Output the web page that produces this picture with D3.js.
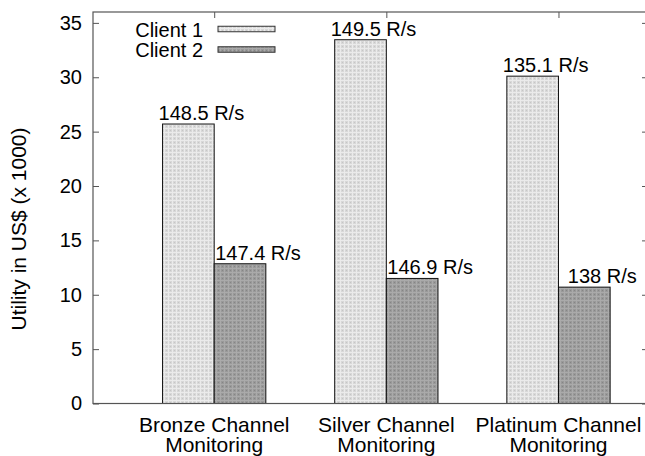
<!DOCTYPE html>
<html>
<head>
<meta charset="utf-8">
<script src="https://cdn.jsdelivr.net/npm/d3@7"></script>
<style>
  html, body { margin: 0; padding: 0; background: #fff; }
  svg { display: block; font-family: "Liberation Sans", Arial, Helvetica, sans-serif; }
</style>
</head>
<body>
<svg id="chart" width="645" height="456"></svg>
<script>
// Utility per monitoring channel (thousands of US$)
const categories = [["Bronze Channel", "Monitoring"], ["Silver Channel", "Monitoring"], ["Platinum Channel", "Monitoring"]];
const seriesNames = ["Client 1", "Client 2"];
const client1Utility = [25.7, 33.45, 30.1];
const client2Utility = [12.85, 11.5, 10.7];
// Request rates printed above each bar
const client1Rate = ["148.5", "149.5", "135.1"];
const client2Rate = ["147.4", "146.9", "138"];
const yTicks = [0, 5, 10, 15, 20, 25, 30, 35];

(function () {
  const svg = d3.select("#chart");
  const plotL = 93, plotT = 12, plotB = 403.5, plotR = 648;

  const x = d3.scaleLinear().domain([-0.704, 2.52]).range([plotL, plotR]);
  const y = d3.scaleLinear().domain([0, 36]).range([plotB, plotT]);
  const barW = 0.30;

  // fill textures
  const defs = svg.append("defs");
  function texture(id, base, light, dark) {
    const p = defs.append("pattern").attr("id", id).attr("patternUnits", "userSpaceOnUse")
      .attr("width", 4).attr("height", 4);
    p.append("rect").attr("width", 4).attr("height", 4).attr("fill", base);
    p.append("rect").attr("x", 0).attr("y", 0).attr("width", 4).attr("height", 1).attr("fill", light);
    p.append("rect").attr("x", 0).attr("y", 0).attr("width", 1).attr("height", 4).attr("fill", light);
    p.append("rect").attr("x", 2).attr("y", 2).attr("width", 1).attr("height", 1).attr("fill", dark);
  }
  texture("tex1", "#d8d8d8", "#ebebeb", "#c6c6c6");
  texture("tex2", "#999999", "#aaaaaa", "#858585");

  const series = [
    { name: seriesNames[0], values: client1Utility, rates: client1Rate, fill: "url(#tex1)", shift: -barW, dx: 13 },
    { name: seriesNames[1], values: client2Utility, rates: client2Rate, fill: "url(#tex2)", shift: 0, dx: 18 }
  ];

  // bars with rate labels
  series.forEach(s => {
    svg.append("g").selectAll("rect").data(s.values).join("rect")
      .attr("x", (d, i) => x(i + s.shift))
      .attr("y", d => y(d))
      .attr("width", x(barW) - x(0))
      .attr("height", d => y(0) - y(d))
      .attr("fill", s.fill)
      .attr("stroke", "#111")
      .attr("stroke-width", 1);
    svg.append("g").selectAll("text").data(s.values).join("text")
      .attr("x", (d, i) => x(i + s.shift + barW / 2) + s.dx)
      .attr("y", d => y(d) - 4)
      .attr("text-anchor", "middle")
      .attr("font-size", 20)
      .attr("fill", "#000")
      .text((d, i) => s.rates[i] + " R/s");
  });

  // frame and axes
  const axisColor = "#555";
  const gL = svg.append("g").attr("transform", `translate(${plotL},0)`)
    .call(d3.axisLeft(y).tickValues(yTicks).tickSize(-6).tickPadding(11));
  gL.selectAll("text").attr("font-size", 20).attr("fill", "#000").attr("font-family", null);
  gL.selectAll("line").attr("stroke", axisColor);
  gL.select(".domain").remove();

  const gR = svg.append("g").attr("transform", `translate(${plotR},0)`)
    .call(d3.axisRight(y).tickValues(yTicks).tickSize(-6).tickFormat(""));
  gR.selectAll("line").attr("stroke", axisColor);
  gR.select(".domain").remove();

  const gT = svg.append("g").attr("transform", `translate(0,${plotT})`)
    .call(d3.axisTop(x).tickValues([0, 1, 2]).tickSize(-6).tickFormat(""));
  gT.selectAll("line").attr("stroke", axisColor);
  gT.select(".domain").remove();

  svg.append("rect")
    .attr("x", plotL).attr("y", plotT)
    .attr("width", plotR - plotL).attr("height", plotB - plotT)
    .attr("fill", "none").attr("stroke", axisColor).attr("stroke-width", 1.2);

  // category labels, two lines each
  const cat = svg.append("g").selectAll("text").data(categories).join("text")
    .attr("x", (d, i) => x(i))
    .attr("y", 431.5)
    .attr("text-anchor", "middle")
    .attr("font-size", 21)
    .attr("fill", "#000");
  cat.selectAll("tspan").data(d => d).join("tspan")
    .attr("x", function () { return d3.select(this.parentNode).attr("x"); })
    .attr("dy", (d, i) => i === 0 ? 0 : 20)
    .text(d => d);

  // y title
  svg.append("text")
    .attr("transform", "translate(26,229) rotate(-90)")
    .attr("text-anchor", "middle")
    .attr("font-size", 21)
    .attr("fill", "#000")
    .text("Utility in US$ (x 1000)");

  // legend
  const legend = svg.append("g");
  series.forEach((s, i) => {
    const cy = 29 + i * 20.5;
    legend.append("text")
      .attr("x", 203).attr("y", cy + 7.5)
      .attr("text-anchor", "end")
      .attr("font-size", 20)
      .attr("fill", "#000")
      .text(s.name);
    legend.append("rect")
      .attr("x", 218).attr("y", cy - 2.75)
      .attr("width", 57).attr("height", 5.5)
      .attr("fill", s.fill)
      .attr("stroke", "#333").attr("stroke-width", 1);
  });
})();
</script>
</body>
</html>
